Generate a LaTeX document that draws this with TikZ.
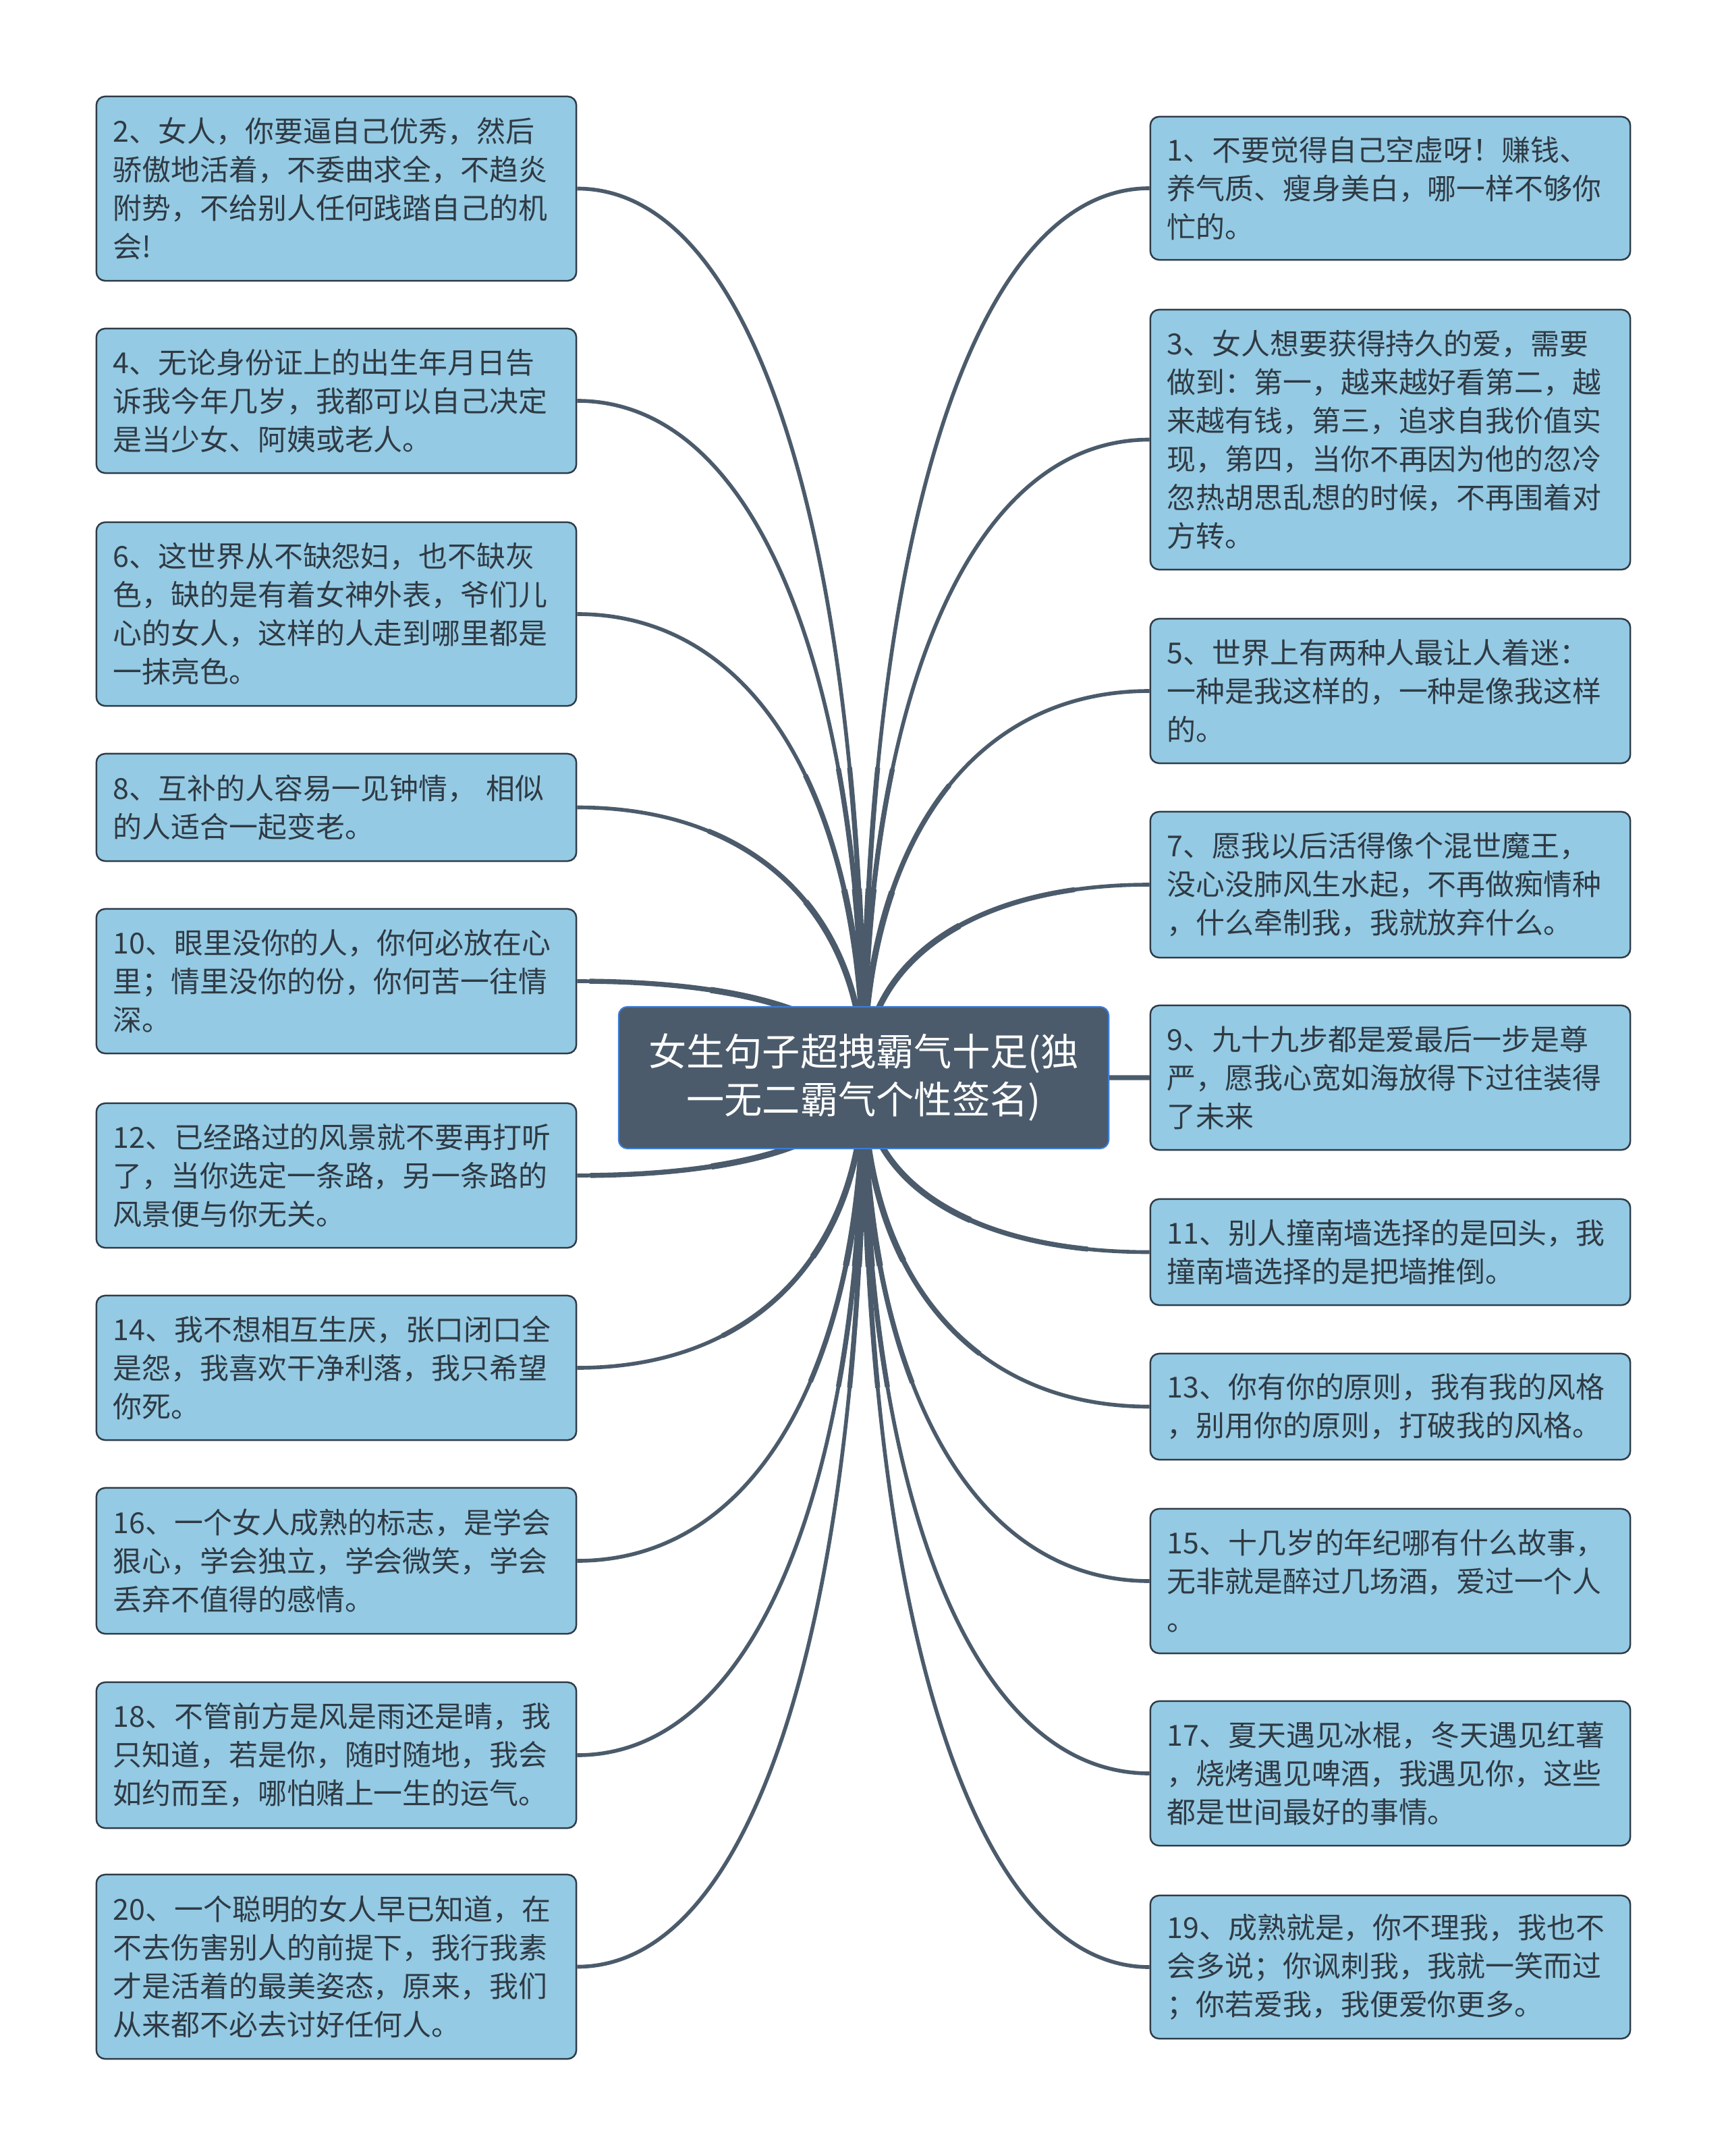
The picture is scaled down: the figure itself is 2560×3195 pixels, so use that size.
\documentclass[tikz,border=0pt]{standalone}
\usepackage{fontspec}
\usepackage{xcolor}
\usepackage{tikz}
\usetikzlibrary{calc,backgrounds}
\newfontfamily\cjk{Noto Sans CJK SC}
\definecolor{STBlue}{HTML}{94CAE3}
\definecolor{STEdge}{HTML}{2E3B48}
\definecolor{STText}{HTML}{2F3A44}
\definecolor{STRoot}{HTML}{4B5B6B}
\definecolor{STRootEdge}{HTML}{3D7CD6}
\tikzset{
  leaf/.style={draw=STEdge,line width=0.7pt,fill=STBlue,rounded corners=0.13cm,text=STText,
    font=\cjk\fontsize{12.2}{16.2}\selectfont,align=left,text width=6.61cm,
    inner xsep=0.25cm,inner ysep=0pt,minimum width=7.11cm},
  root/.style={draw=STRootEdge,line width=0.6pt,fill=STRoot,rounded corners=0.13cm,text=white,
    font=\cjk\fontsize{16}{20.2}\selectfont,align=center,minimum width=7.26cm,minimum height=2.10cm},
  link/.style={draw=STRoot,line width=1.6pt},
  linkmid/.style={draw=STRoot,line width=2.1pt,dash pattern=on 4.6cm off 100cm},
  linkbase/.style={draw=STRoot,line width=2.6pt,dash pattern=on 2.8cm off 100cm}
}

\begin{document}
\begin{tikzpicture}[x=0.01cm,y=-0.01cm]
\path[use as bounding box] (0,0) rectangle (2560,3195);
\node[root] (root) at (1280,1597) {女生句子超拽霸气十足(独\\一无二霸气个性签名)};
\node[leaf,minimum height=2.73cm] (l2) at (498.5,279.5) {2、女人，你要逼自己优秀，然后\\骄傲地活着，不委曲求全，不趋炎\\附势，不给别人任何践踏自己的机\\会!};
\node[leaf,minimum height=2.14cm] (l4) at (498.5,594) {4、无论身份证上的出生年月日告\\诉我今年几岁，我都可以自己决定\\是当少女、阿姨或老人。};
\node[leaf,minimum height=2.72cm] (l6) at (498.5,910) {6、这世界从不缺怨妇，也不缺灰\\色，缺的是有着女神外表，爷们儿\\心的女人，这样的人走到哪里都是\\一抹亮色。};
\node[leaf,minimum height=1.59cm] (l8) at (498.5,1196.5) {8、互补的人容易一见钟情， 相似\\的人适合一起变老。};
\node[leaf,minimum height=2.14cm] (l10) at (498.5,1454) {10、眼里没你的人，你何必放在心\\里；情里没你的份，你何苦一往情\\深。};
\node[leaf,minimum height=2.14cm] (l12) at (498.5,1742) {12、已经路过的风景就不要再打听\\了，当你选定一条路，另一条路的\\风景便与你无关。};
\node[leaf,minimum height=2.14cm] (l14) at (498.5,2027) {14、我不想相互生厌，张口闭口全\\是怨，我喜欢干净利落，我只希望\\你死。};
\node[leaf,minimum height=2.16cm] (l16) at (498.5,2313) {16、一个女人成熟的标志，是学会\\狠心，学会独立，学会微笑，学会\\丢弃不值得的感情。};
\node[leaf,minimum height=2.16cm] (l18) at (498.5,2601) {18、不管前方是风是雨还是晴，我\\只知道，若是你，随时随地，我会\\如约而至，哪怕赌上一生的运气。};
\node[leaf,minimum height=2.73cm] (l20) at (498.5,2914.5) {20、一个聪明的女人早已知道，在\\不去伤害别人的前提下，我行我素\\才是活着的最美姿态，原来，我们\\从来都不必去讨好任何人。};
\node[leaf,minimum height=2.12cm] (r1) at (2060.5,279) {1、不要觉得自己空虚呀！赚钱、\\养气质、瘦身美白，哪一样不够你\\忙的。};
\node[leaf,minimum height=3.85cm] (r3) at (2060.5,651.5) {3、女人想要获得持久的爱，需要\\做到：第一，越来越好看第二，越\\来越有钱，第三，追求自我价值实\\现，第四，当你不再因为他的忽冷\\忽热胡思乱想的时候，不再围着对\\方转。};
\node[leaf,minimum height=2.14cm] (r5) at (2060.5,1024) {5、世界上有两种人最让人着迷：\\一种是我这样的，一种是像我这样\\的。};
\node[leaf,minimum height=2.16cm] (r7) at (2060.5,1311) {7、愿我以后活得像个混世魔王，\\没心没肺风生水起，不再做痴情种\\，什么牵制我，我就放弃什么。};
\node[leaf,minimum height=2.14cm] (r9) at (2060.5,1597) {9、九十九步都是爱最后一步是尊\\严，愿我心宽如海放得下过往装得\\了未来};
\node[leaf,minimum height=1.57cm] (r11) at (2060.5,1855.5) {11、别人撞南墙选择的是回头，我\\撞南墙选择的是把墙推倒。};
\node[leaf,minimum height=1.57cm] (r13) at (2060.5,2084.5) {13、你有你的原则，我有我的风格\\，别用你的原则，打破我的风格。};
\node[leaf,minimum height=2.14cm] (r15) at (2060.5,2343) {15、十几岁的年纪哪有什么故事，\\无非就是醉过几场酒，爱过一个人\\。};
\node[leaf,minimum height=2.14cm] (r17) at (2060.5,2628) {17、夏天遇见冰棍，冬天遇见红薯\\，烧烤遇见啤酒，我遇见你，这些\\都是世间最好的事情。};
\node[leaf,minimum height=2.12cm] (r19) at (2060.5,2915) {19、成熟就是，你不理我，我也不\\会多说；你讽刺我，我就一笑而过\\；你若爱我，我便爱你更多。};
\begin{scope}[on background layer]
\foreach \s in {link,linkmid,linkbase}{
  \foreach \b in {l2,l4,l6,l8,l10,l12,l14,l16,l18,l20}
    \draw[\s] (root.center) .. controls ($(root.center)!0.57!(root.center|-\b.east)$) and ($(\b.east)!0.65!(root.center|-\b.east)$) .. (\b.east);
  \foreach \b in {r1,r3,r5,r7,r9,r11,r13,r15,r17,r19}
    \draw[\s] (root.center) .. controls ($(root.center)!0.57!(root.center|-\b.west)$) and ($(\b.west)!0.65!(root.center|-\b.west)$) .. (\b.west);
}
\end{scope}
\end{tikzpicture}
\end{document}
